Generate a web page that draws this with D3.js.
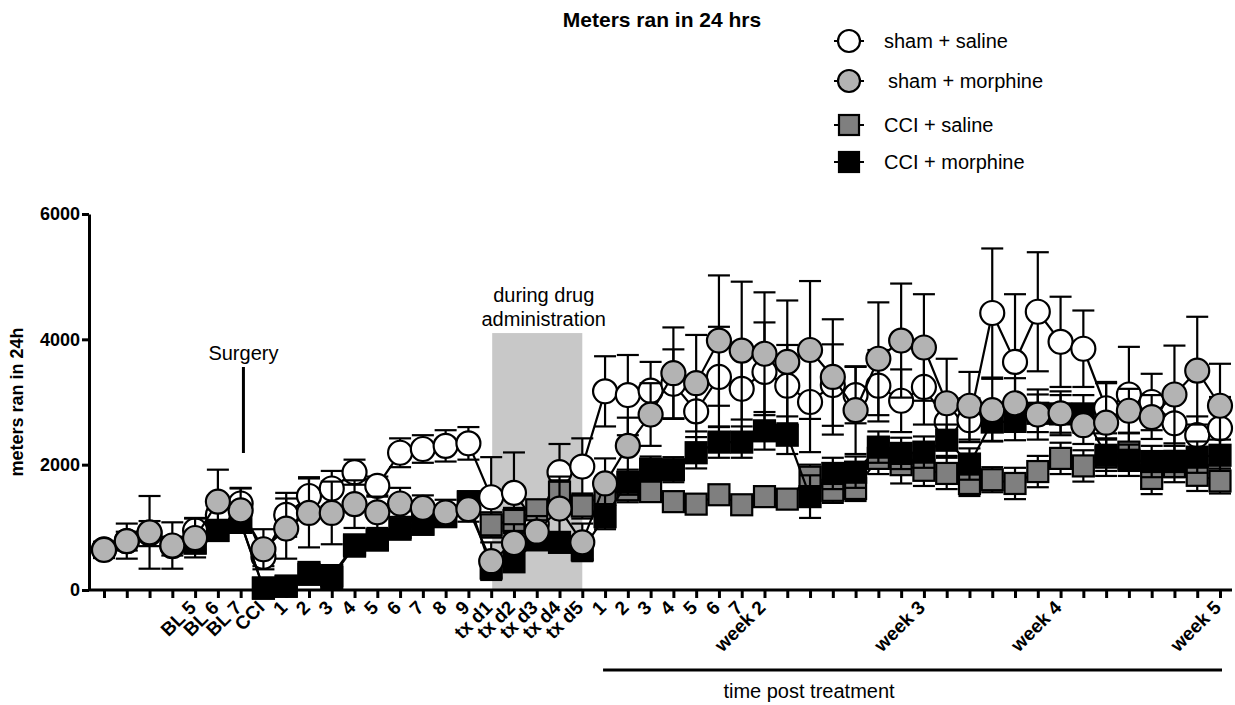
<!DOCTYPE html>
<html>
<head>
<meta charset="utf-8">
<script src="https://cdn.jsdelivr.net/npm/d3@7"></script>
<style>
  body { margin: 0; background: white; }
  text { font-family: Arial, "Liberation Sans", sans-serif; }
</style>
</head>
<body>
<svg id="chart" width="1235" height="705"></svg>
<script>
// tick labels, one per measured day
const dayLabels = ["", "", "", "", "BL 5", "BL 6", "BL 7", "CCI",
  "1", "2", "3", "4", "5", "6", "7", "8", "9",
  "tx d1", "tx d2", "tx d3", "tx d4", "tx d5",
  "1", "2", "3", "4", "5", "6", "7", "week 2",
  "", "", "", "", "", "", "week 3", "", "", "", "", "", "week 4",
  "", "", "", "", "", "", "week 5"];

// means (meters in 24h), null = not shown
const shamSaline = [650, 780, 900, 700, 950, 1200, 1380, 530, 1200, 1500,
  1620, 1880, 1660, 2190, 2250, 2300, 2340, 1480, 1550, 1050,
  1880, 1970, 3170, 3110, 3180, 3290, 2850, 3400, 3210, 3480,
  3260, 3000, 3270, 3110, 3260, 3020, 3240, 2680, 2710, 4420,
  3640, 4440, 3960, 3850, 2900, 3120, 3000, 2660, 2470, 2580];
const shamMorphine = [640, 780, 920, 710, 830, 1410, 1270, 650, 980, 1230,
  1230, 1370, 1240, 1380, 1310, 1240, 1290, 460, 750, 930,
  1300, 760, 1700, 2300, 2800, 3460, 3300, 3980, 3820, 3770,
  3640, 3830, 3400, 2870, 3690, 3980, 3870, 2980, 2940, 2870,
  2980, 2800, 2820, 2630, 2670, 2860, 2760, 3120, 3500, 2940];
const cciSaline = [null, null, null, null, 750, 950, 1080, 30, 60, 280,
  200, 700, 800, 1000, 1050, 1180, 1400, 1040, 1110, 1280,
  1560, 1340, 1530, 1600, 1570, 1410, 1370, 1520, 1360, 1490,
  1450, 1800, 1590, 1620, 2100, 2000, 1910, 1860, 1700, 1760,
  1700, 1890, 2100, 1980, 2120, 2200, 1780, 1970, 1830, 1740];
const cciMorphine = [null, null, null, null, 750, 950, 1080, 30, 60, 250,
  230, 720, 800, 970, 1050, 1170, 1410, 350, 450, 800,
  760, 640, 1170, 1720, 1930, 1920, 2190, 2360, 2360, 2540,
  2470, 1490, 1860, 1880, 2280, 2180, 2200, 2390, 2010, 2680,
  2690, 2820, 2810, 2810, 2150, 2070, 2050, 2050, 2120, 2150];

// SEM
const shamSalineErr = [100, 150, 200, 150, 200, 250, 250, 150, 350, 300,
  280, 200, 150, 230, 220, 250, 260, 640, 645, 200,
  450, 450, 560, 640, 460, 550, 500, 800, 700, 790,
  650, 800, 650, 450, 570, 500, 600, 300, 350, 1030,
  1080, 950, 720, 610, 400, 760, 450, 500, 300, 500];
const shamMorphineErr = [130, 280, 580, 370, 310, 510, 350, 320, 480, 550,
  500, 380, 250, 250, 200, 200, 200, 300, 300, 250,
  450, 300, 400, 450, 500, 730, 770, 1040, 1100, 980,
  980, 1100, 920, 700, 900, 910, 850, 710, 540, 500,
  400, 400, 350, 300, 650, 350, 350, 780, 860, 670];
const cciSalineErr = [0, 0, 0, 0, 100, 120, 120, 30, 60, 100,
  100, 150, 150, 150, 150, 150, 150, 200, 200, 150,
  250, 200, 200, 200, 150, 150, 150, 150, 150, 150,
  150, 200, 200, 200, 250, 300, 250, 250, 200, 200,
  250, 250, 250, 250, 300, 300, 250, 250, 250, 200];
const cciMorphineErr = [0, 0, 0, 0, 100, 120, 120, 30, 60, 120,
  100, 150, 150, 150, 150, 150, 150, 150, 150, 150,
  150, 150, 200, 200, 200, 200, 250, 250, 250, 300,
  300, 340, 250, 250, 250, 250, 250, 250, 250, 300,
  300, 300, 300, 300, 250, 250, 250, 250, 250, 250];

const yTicks = [0, 2000, 4000, 6000];
const drugDays = ["tx d1", "tx d5"];
const drugBoxTop = 4100;

const svg = d3.select("#chart");

const x = d3.scalePoint()
  .domain(d3.range(dayLabels.length))
  .range([104, 1220]);

const y = d3.scaleLinear()
  .domain([0, 6000])
  .range([590, 214]);

// shaded box for drug days
const d1 = dayLabels.indexOf(drugDays[0]);
const d5 = dayLabels.indexOf(drugDays[1]);
svg.append("rect")
  .attr("x", x(d1) + 1)
  .attr("y", y(drugBoxTop))
  .attr("width", x(d5) - x(d1) - 1)
  .attr("height", y(0) - y(drugBoxTop))
  .attr("fill", "#c8c8c8");

svg.append("text")
  .attr("x", (x(d1) + x(d5)) / 2 + 7)
  .attr("y", 302)
  .attr("text-anchor", "middle")
  .style("font-size", "20px")
  .text("during drug");
svg.append("text")
  .attr("x", (x(d1) + x(d5)) / 2 + 7)
  .attr("y", 326)
  .attr("text-anchor", "middle")
  .style("font-size", "20px")
  .text("administration");

// surgery marker
const cci = dayLabels.indexOf("CCI");
svg.append("text")
  .attr("x", x(cci) - 20)
  .attr("y", 360)
  .attr("text-anchor", "middle")
  .style("font-size", "20px")
  .text("Surgery");
svg.append("line")
  .attr("x1", x(cci) - 20).attr("x2", x(cci) - 20)
  .attr("y1", 367).attr("y2", 453)
  .attr("stroke", "black")
  .attr("stroke-width", 3);

// axes
const yAxis = svg.append("g")
  .attr("transform", "translate(89,0)")
  .call(d3.axisLeft(y).tickValues(yTicks).tickFormat(d3.format("d"))
    .tickSize(7).tickPadding(2).tickSizeOuter(0));
yAxis.select(".domain").attr("stroke-width", 3);
yAxis.selectAll(".tick line").attr("stroke-width", 3);
yAxis.selectAll("text")
  .style("font-size", "18px")
  .style("font-weight", "bold")
  .attr("fill", "black");

const xAxis = svg.append("g")
  .attr("transform", "translate(0,590)")
  .call(d3.axisBottom(x).tickFormat(i => dayLabels[i]).tickSize(8).tickSizeOuter(0));
xAxis.select(".domain").attr("d", "M88,0H1232").attr("stroke-width", 3);
xAxis.selectAll(".tick line").attr("stroke-width", 3);
xAxis.selectAll("text")
  .attr("x", 0)
  .attr("y", 0)
  .attr("dy", "0.35em")
  .attr("text-anchor", "end")
  .attr("transform", "translate(-3,14) rotate(-45)")
  .style("font-size", "19px")
  .style("font-weight", "bold")
  .attr("fill", "black");

svg.append("text")
  .attr("transform", "translate(23,402) rotate(-90)")
  .attr("text-anchor", "middle")
  .style("font-size", "18px")
  .style("font-weight", "bold")
  .text("meters ran in 24h");

svg.append("text")
  .attr("x", 662)
  .attr("y", 27)
  .attr("text-anchor", "middle")
  .style("font-size", "21px")
  .style("font-weight", "bold")
  .text("Meters ran in 24 hrs");

// post treatment bracket
const post1 = dayLabels.indexOf("tx d5") + 1;
svg.append("line")
  .attr("x1", x(post1) - 2).attr("x2", x(dayLabels.length - 1) + 2)
  .attr("y1", 670).attr("y2", 670)
  .attr("stroke", "black")
  .attr("stroke-width", 3);
svg.append("text")
  .attr("x", 809)
  .attr("y", 698)
  .attr("text-anchor", "middle")
  .style("font-size", "20px")
  .text("time post treatment");

// series, drawn bottom to top
const series = [
  { name: "sham + saline", values: shamSaline, err: shamSalineErr, shape: "circle", fill: "white" },
  { name: "CCI + saline", values: cciSaline, err: cciSalineErr, shape: "square", fill: "#7f7f7f" },
  { name: "CCI + morphine", values: cciMorphine, err: cciMorphineErr, shape: "square", fill: "black" },
  { name: "sham + morphine", values: shamMorphine, err: shamMorphineErr, shape: "circle", fill: "#b3b3b3" }
];

const R = 12;
const S = 21;
const CAP = 11;

function drawMarker(g, shape, fill, cx, cy, r, s) {
  if (shape === "circle") {
    g.append("circle")
      .attr("cx", cx).attr("cy", cy).attr("r", r)
      .attr("fill", fill).attr("stroke", "black").attr("stroke-width", 2.2);
  } else {
    g.append("rect")
      .attr("x", cx - s / 2).attr("y", cy - s / 2)
      .attr("width", s).attr("height", s)
      .attr("fill", fill).attr("stroke", "black").attr("stroke-width", 2.2);
  }
}

series.forEach(function(sr) {
  const g = svg.append("g");
  const pts = sr.values.map((v, i) => [i, v, sr.err[i]]).filter(d => d[1] !== null);

  // error bars
  pts.forEach(function(d) {
    const lo = Math.max(0, d[1] - d[2]);
    const hi = d[1] + d[2];
    g.append("line")
      .attr("x1", x(d[0])).attr("x2", x(d[0]))
      .attr("y1", y(lo)).attr("y2", y(hi))
      .attr("stroke", "black").attr("stroke-width", 2.2);
    [lo, hi].forEach(function(v) {
      g.append("line")
        .attr("x1", x(d[0]) - CAP).attr("x2", x(d[0]) + CAP)
        .attr("y1", y(v)).attr("y2", y(v))
        .attr("stroke", "black").attr("stroke-width", 2.2);
    });
  });

  g.append("path")
    .datum(pts)
    .attr("fill", "none")
    .attr("stroke", "black")
    .attr("stroke-width", 2.2)
    .attr("d", d3.line().x(d => x(d[0])).y(d => y(d[1])));

  pts.forEach(function(d) {
    drawMarker(g, sr.shape, sr.fill, x(d[0]), y(d[1]), R, S);
  });
});

// legend
const legendOrder = [series[0], series[3], series[1], series[2]];
const legendY = [41, 81, 125, 162];
const legendX = [884, 888, 884, 884];
legendOrder.forEach(function(sr, i) {
  const g = svg.append("g");
  g.append("line")
    .attr("x1", 834).attr("x2", 864)
    .attr("y1", legendY[i]).attr("y2", legendY[i])
    .attr("stroke", "black").attr("stroke-width", 2);
  drawMarker(g, sr.shape, sr.fill, 849, legendY[i], 11, 20);
  g.append("text")
    .attr("x", legendX[i])
    .attr("y", legendY[i])
    .attr("dy", "0.35em")
    .style("font-size", "20px")
    .text(sr.name);
});
</script>
</body>
</html>
